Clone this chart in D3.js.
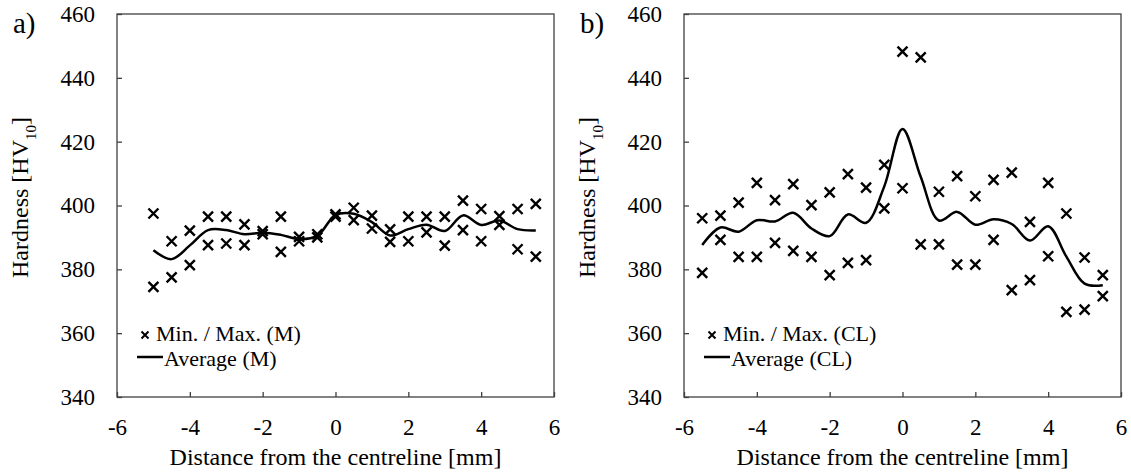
<!DOCTYPE html>
<html><head><meta charset="utf-8">
<script src="https://cdn.jsdelivr.net/npm/d3@7"></script>
<style>
html,body{margin:0;padding:0;background:#fff;}
</style></head>
<body>
<svg id="chart" width="1131" height="472"></svg>
<script>
// ---- data ----
const xTicks = [-6, -4, -2, 0, 2, 4, 6];
const yTicks = [340, 360, 380, 400, 420, 440, 460];

const xA = [-5, -4.5, -4, -3.5, -3, -2.5, -2, -1.5, -1, -0.5, 0, 0.5, 1, 1.5, 2, 2.5, 3, 3.5, 4, 4.5, 5, 5.5];
const maxA = [397.5, 388.8, 392.1, 396.5, 396.5, 394.1, 392, 396.5, 390.2, 391, 397.2, 399.3, 396.8, 392.5, 396.5, 396.5, 396.5, 401.5, 398.9, 396.7, 398.9, 400.5];
const minA = [374.5, 377.5, 381.3, 387.6, 388.1, 387.6, 391, 385.5, 388.8, 390, 396.5, 395.4, 392.8, 388.6, 388.8, 391.6, 387.4, 392.3, 388.8, 393.9, 386.3, 384];
const avgA = [386, 383.2, 387.5, 392.3, 392.3, 391, 391.5, 390.8, 389.5, 390.5, 397, 397.4, 394.8, 390.6, 392.6, 394, 392, 396.9, 393.9, 395.3, 392.6, 392.2];

const xB = [-5.5, -5, -4.5, -4, -3.5, -3, -2.5, -2, -1.5, -1, -0.5, 0, 0.5, 1, 1.5, 2, 2.5, 3, 3.5, 4, 4.5, 5, 5.5];
const maxB = [396.0, 396.8, 400.9, 407.1, 401.7, 406.7, 400.1, 404.1, 409.8, 405.6, 412.7, 448.2, 446.4, 404.3, 409.2, 402.9, 408.0, 410.3, 394.9, 407.1, 397.5, 383.7, 378.2];
const minB = [378.9, 389.2, 383.9, 383.9, 388.3, 385.8, 383.9, 378.2, 382.0, 382.9, 399.1, 405.4, 387.8, 387.8, 381.5, 381.5, 389.2, 373.5, 376.6, 384.1, 366.7, 367.4, 371.6];
const avgB = [387.6, 393.1, 391.8, 395.4, 395.0, 397.7, 392.8, 390.4, 397.2, 394.6, 406, 424, 409, 395.3, 398, 394, 395.7, 394.2, 389, 393.5, 384, 375.5, 375];

const panels = [
  {label: "a)", left: 117, xs: xA, mx: maxA, mn: minA, av: avgA, legMin: "Min. / Max. (M)", legAvg: "Average (M)"},
  {label: "b)", left: 684, xs: xB, mx: maxB, mn: minB, av: avgB, legMin: "Min. / Max. (CL)", legAvg: "Average (CL)"}
];

const FONT = '"Liberation Serif", "Times New Roman", Tinos, "DejaVu Serif", serif';
const svg = d3.select("#chart");
const W = 437, plotTop = 14, plotBottom = 397;
const tickFont = 23, titleFont = 24, legFont = 22, labFont = 29;

function txt(parent) {
  return parent.append("text").style("font-family", FONT).style("fill", "#000");
}

function cross(g, x, y, r, sw) {
  g.append("path")
    .attr("d", `M${x - r},${y - r}L${x + r},${y + r}M${x - r},${y + r}L${x + r},${y - r}`)
    .attr("stroke", "#000").attr("stroke-width", sw).attr("fill", "none");
}

panels.forEach(p => {
  const x = d3.scaleLinear().domain([-6, 6]).range([p.left, p.left + W]);
  const y = d3.scaleLinear().domain([340, 460]).range([plotBottom, plotTop]);
  const g = svg.append("g");

  // frame
  g.append("rect").attr("x", p.left).attr("y", plotTop).attr("width", W).attr("height", plotBottom - plotTop)
    .attr("fill", "none").attr("stroke", "#404040").attr("stroke-width", 1.3);

  // axes
  const ya = g.append("g").attr("transform", `translate(${p.left},0)`)
    .call(d3.axisLeft(y).tickValues(yTicks).tickSize(-5).tickPadding(22).tickFormat(d => String(d)));
  const xa = g.append("g").attr("transform", `translate(0,${plotBottom})`)
    .call(d3.axisBottom(x).tickValues(xTicks).tickSize(-5).tickPadding(22).tickFormat(d => String(d)));
  [ya, xa].forEach(a => {
    a.select(".domain").remove();
    a.attr("font-family", null).attr("font-size", null);
    a.selectAll("line").attr("stroke", "#404040").attr("stroke-width", 1.3);
    a.selectAll("text").style("font-family", FONT).style("font-size", tickFont + "px").style("fill", "#000");
  });
  xa.selectAll("text").attr("dy", null).attr("y", 38);

  // average line
  const line = d3.line().x((d, i) => x(p.xs[i])).y(d => y(d)).curve(d3.curveCatmullRom.alpha(0.5));
  g.append("path").datum(p.av).attr("d", line)
    .attr("fill", "none").attr("stroke", "#000").attr("stroke-width", 2.5);

  // markers
  p.xs.forEach((xv, i) => {
    cross(g, x(xv), y(p.mx[i]), 5, 2.4);
    cross(g, x(xv), y(p.mn[i]), 5, 2.4);
  });

  // titles
  txt(g).attr("x", p.left + W / 2).attr("y", 465).attr("text-anchor", "middle")
    .style("font-size", titleFont + "px").text("Distance from the centreline [mm]");
  const yt = txt(g).attr("transform", `translate(${p.left - 89},${(plotTop + plotBottom) / 2 - 8}) rotate(-90)`)
    .attr("text-anchor", "middle").style("font-size", titleFont + "px");
  yt.append("tspan").text("Hardness [HV");
  yt.append("tspan").style("font-size", "15px").attr("dy", 8).text("10");
  yt.append("tspan").attr("dy", -8).text("]");

  // panel label
  txt(g).attr("x", p.left - 104).attr("y", 33).style("font-size", labFont + "px").text(p.label);

  // legend
  const lx = p.left;
  cross(g, lx + 28, 335, 3.5, 2);
  txt(g).attr("x", lx + 39).attr("y", 341).style("font-size", legFont + "px").text(p.legMin);
  g.append("line").attr("x1", lx + 20).attr("x2", lx + 46).attr("y1", 357).attr("y2", 357)
    .attr("stroke", "#000").attr("stroke-width", 2.5);
  txt(g).attr("x", lx + 47).attr("y", 366).style("font-size", legFont + "px").text(p.legAvg);
});
</script>
</body></html>
